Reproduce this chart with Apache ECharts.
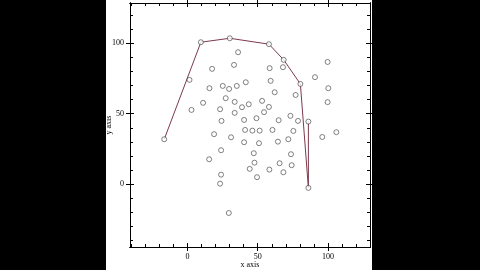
<!DOCTYPE html>
<html>
<head>
<meta charset="utf-8">
<script src="https://cdn.jsdelivr.net/npm/echarts@6/dist/echarts.min.js"></script>
<style>
html,body{margin:0;padding:0;width:480px;height:270px;background:#000;overflow:hidden;}
#chart{position:absolute;left:106px;top:0;width:266px;height:270px;background:#fff;}
</style>
</head>
<body>
<div id="chart"></div>
<script>
// Scatter points (x, y)
var pointX = [36.0,17.5,33.1,1.4,58.5,68.0,99.8,90.8,15.6,25.1,29.6,35.1,41.5,59.2,62.1,77.0,100.3,99.8,11.1,27.2,33.6,43.6,53.1,58.0,38.8,2.8,23.2,33.6,54.5,73.3,24.2,40.3,49.1,64.9,78.7,18.9,31.0,41.0,46.2,51.4,60.5,75.4,96.0,106.0,40.3,50.9,64.4,71.8,23.9,15.4,47.2,73.7,47.7,44.3,65.6,74.2,58.3,68.3,49.5,23.9,23.2,29.4];
var pointY = [93.6,81.8,84.6,74.0,82.3,83.0,86.7,75.9,68.1,69.7,67.6,69.7,72.3,73.3,65.2,63.3,68.1,58.2,57.7,61.0,58.4,56.7,59.1,54.8,54.6,52.7,53.2,50.6,51.1,48.5,44.9,45.6,46.8,45.4,44.9,35.5,33.3,38.5,38.0,38.0,38.5,37.8,33.5,36.9,29.8,29.1,30.2,31.9,24.1,17.7,22.0,21.3,15.3,10.9,14.9,13.5,10.4,8.5,5.0,6.8,0.4,-20.4];
// Hull polyline vertices (also drawn as points)
var hullX = [-16.6,9.5,30.1,58.0,68.5,80.4,86.1,86.1];
var hullY = [31.9,100.7,103.5,99.3,88.2,71.1,-2.6,44.4];
// Tick values
var majorTicks = [0,50,100];
var minorTicksX = [-40,-30,-20,-10,0,10,20,30,40,50,60,70,80,90,100,110,120];
var minorTicksY = [-40,-30,-20,-10,0,10,20,30,40,50,60,70,80,90,100,110,120];
var xName = 'x axis';
var yName = 'y axis';

var X_MIN = -41, X_MAX = 130, Y_MIN = -44.5, Y_MAX = 128.5;
var FONT = 'Liberation Serif';

function mkAxis(kind, pos, ticks, inside, len, labels, name){
  var a = {
    type:'value', position:pos, offset:0,
    min: kind==='x'?X_MIN:Y_MIN, max: kind==='x'?X_MAX:Y_MAX,
    splitLine:{show:false},
    axisLine:{show:true, onZero:false, lineStyle:{color:'#000', width:1}},
    axisTick:{show:true, inside:inside, length:len, customValues:ticks, lineStyle:{color:'#000',width:1}},
    axisLabel:{show:!!labels, customValues:majorTicks, color:'#000', fontFamily:FONT, fontSize:8, margin:6}
  };
  if (name){
    a.name = name; a.nameLocation='middle';
    a.nameTextStyle = {color:'#000', fontFamily:FONT, fontSize:8};
    a.nameGap = kind==='x'?14:17;
  }
  return a;
}

var chart = echarts.init(document.getElementById('chart'), null, {renderer:'canvas'});
var pts = pointX.map(function(x,i){return [x,pointY[i]];}).concat(hullX.map(function(x,i){return [x,hullY[i]];}));
var hull = hullX.map(function(x,i){return [x,hullY[i]];});

chart.setOption({
  animation:false,
  backgroundColor:'#fff',
  grid:{left:24, width:240, top:3, height:244, show:false, containLabel:false, outerBoundsMode:'none'},
  xAxis:[
    mkAxis('x','bottom',minorTicksX,true,3,false,xName),
    mkAxis('x','bottom',majorTicks,true,4,false),
    mkAxis('x','bottom',majorTicks,false,4,true),
    mkAxis('x','top',minorTicksX,true,3,false),
    mkAxis('x','top',majorTicks,true,4,false),
    mkAxis('x','top',majorTicks,false,4,false)
  ],
  yAxis:[
    mkAxis('y','left',minorTicksY,true,3,false,yName),
    mkAxis('y','left',majorTicks,true,4,false),
    mkAxis('y','left',majorTicks,false,4,true),
    mkAxis('y','right',minorTicksY,true,3,false),
    mkAxis('y','right',majorTicks,true,4,false),
    mkAxis('y','right',majorTicks,false,4,false)
  ],
  series:[
    {type:'line', data:hull, xAxisIndex:0, yAxisIndex:0, showSymbol:false, symbol:'none',
     lineStyle:{color:'#7d3a4c', width:1}, z:2},
    {type:'scatter', data:pts, xAxisIndex:0, yAxisIndex:0, symbol:'circle', symbolSize:5,
     itemStyle:{color:'#fff', borderColor:'#222', borderWidth:0.7}, z:3}
  ]
});
</script>
</body>
</html>
